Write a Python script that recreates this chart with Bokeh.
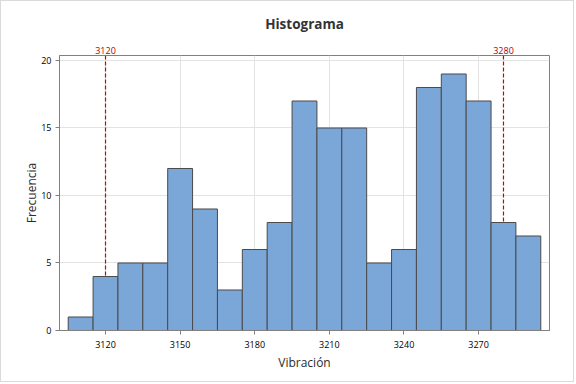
from bokeh.plotting import figure
from bokeh.models import Span, FixedTicker, Range1d, LinearAxis
from bokeh.embed import file_html
from bokeh.resources import INLINE

# Data
bin_left = [3105, 3115, 3125, 3135, 3145, 3155, 3165, 3175, 3185, 3195,
            3205, 3215, 3225, 3235, 3245, 3255, 3265, 3275, 3285]
bin_width = 10
counts = [1, 4, 5, 5, 12, 9, 3, 6, 8, 17, 15, 15, 5, 6, 18, 19, 17, 8, 7]
x_ticks = [3120, 3150, 3180, 3210, 3240, 3270]
y_ticks = [0, 5, 10, 15, 20]
ref_lines = [3120, 3280]

FONT = "Open Sans"
bin_right = [b + bin_width for b in bin_left]
bottoms = [0] * len(counts)

p = figure(width=574, height=382, output_backend="svg", toolbar_location=None,
           x_range=Range1d(3101.5, 3298.5), y_range=Range1d(0, 20.37),
           min_border_left=58, min_border_right=26, min_border_top=54, min_border_bottom=53)
p.styles = {"border": "1px solid #dadada"}

p.title.text = "Histograma"
p.title.align = "center"
p.title.text_font = FONT
p.title.text_font_size = "13.5px"
p.title.text_font_style = "bold"
p.title.text_color = "#333333"
p.title.offset = 0
p.title.standoff = 22

# reference lines and their labels (as a tick-only axis above)
for r in ref_lines:
    p.add_layout(Span(location=r, dimension="height", line_color="#d00000",
                      line_dash="4 2", line_width=1.2, level="underlay"))
top_axis = LinearAxis(ticker=FixedTicker(ticks=ref_lines))
top_axis.axis_line_color = None
top_axis.major_tick_line_color = None
top_axis.minor_tick_line_color = None
top_axis.major_tick_out = 0
top_axis.major_tick_in = 0
top_axis.major_label_standoff = 2
top_axis.major_label_text_font = FONT
top_axis.major_label_text_font_size = "9px"
top_axis.major_label_text_color = "#b00000"
p.add_layout(top_axis, "above")

p.quad(left=bin_left, right=bin_right, top=counts, bottom=bottoms,
       fill_color="#7ba6d8", line_color="#4a4a4a", line_width=1)

bottom_axis = p.below[0]
bottom_axis.ticker = FixedTicker(ticks=x_ticks)
bottom_axis.axis_label = "Vibración"
left_axis = p.left[0]
left_axis.ticker = FixedTicker(ticks=y_ticks)
left_axis.axis_label = "Frecuencia"
for ax in (bottom_axis, left_axis):
    ax.axis_label_text_font = FONT
    ax.axis_label_text_font_size = "12px"
    ax.axis_label_text_font_style = "normal"
    ax.axis_label_text_color = "#2b2b2b"
    ax.major_label_text_font = FONT
    ax.major_label_text_font_size = "9px"
    ax.major_label_text_color = "#000000"
    ax.axis_line_color = "#808080"
    ax.major_tick_line_color = "#808080"
    ax.major_tick_out = 4
    ax.major_tick_in = 0
    ax.minor_tick_line_color = None
bottom_axis.axis_label_standoff = 3
left_axis.axis_label_standoff = -2
bottom_axis.major_label_standoff = 6
left_axis.major_label_standoff = 4

p.xgrid.grid_line_color = "#e3e3e3"
p.ygrid.grid_line_color = "#e3e3e3"
p.outline_line_color = "#808080"
p.outline_line_width = 1
p.background_fill_color = "white"
p.border_fill_color = "white"

open("out.html", "w").write(file_html(p, INLINE))
